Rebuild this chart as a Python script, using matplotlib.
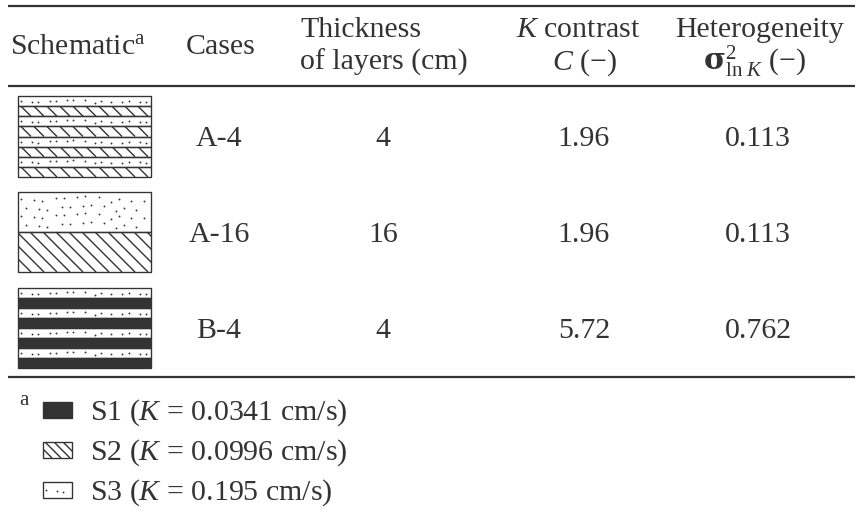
import matplotlib
matplotlib.use('Agg')
from matplotlib import pyplot as plt
from matplotlib.patches import Rectangle

plt.rcParams['font.family'] = ['Liberation Serif', 'DejaVu Serif']
plt.rcParams['mathtext.fontset'] = 'custom'
plt.rcParams['mathtext.rm'] = 'Liberation Serif'
plt.rcParams['mathtext.it'] = 'Liberation Serif:italic'
plt.rcParams['mathtext.bf'] = 'DejaVu Serif:bold'

# table data
cases = ['A-4', 'A-16', 'B-4']
thickness = [4, 16, 4]
k_contrast = [1.96, 1.96, 5.72]
heterogeneity = [0.113, 0.113, 0.762]
layer_stacks = [['S3', 'S2'] * 4, ['S3', 'S2'], ['S3', 'S1'] * 4]

materials = ['S1', 'S2', 'S3']
k_values = ['0.0341', '0.0996', '0.195']

INK = '#333333'
FS = 21.5

# fixed jitter used for the dotted texture
JIT_X = [0, 3, -2, 4, -1, 2, -3, 1, 3, -2, 0, 4]
JIT_Y = [0, -2, 2, -1, 3, 1, -3, 2, -1, 0, 2, -2]


def hatch_rect(ax, x0, y0, x1, y1, step=13):
    clip = Rectangle((x0, y0), x1 - x0, y1 - y0, transform=ax.transData)
    h = y1 - y0
    x = x0 - h
    while x < x1:
        ln, = ax.plot([x, x + h], [y0, y1], color=INK, lw=1.0,
                      solid_capstyle='butt')
        ln.set_clip_path(clip)
        x += step


def dot_rect(ax, x0, y0, x1, y1, sx=9, sy=9, pad=3):
    xs, ys = [], []
    h = y1 - y0
    nrows = max(1, int(round((h - 2 * pad) / sy)))
    row_gap = (h - 2 * pad) / nrows
    k = 0
    for r in range(nrows):
        yc = y0 + pad + row_gap * (r + 0.5)
        x = x0 + pad + (r % 2) * sx / 2
        while x < x1 - pad:
            xx = x + JIT_X[k % len(JIT_X)] * 0.6
            yy = yc + JIT_Y[(k * 5) % len(JIT_Y)] * min(1.0, row_gap / 8)
            if x0 + 1.5 < xx < x1 - 1.5 and y0 + 1.5 < yy < y1 - 1.5:
                xs.append(xx)
                ys.append(yy)
            x += sx
            k += 1
    ax.scatter(xs, ys, s=1.8, color=INK, linewidths=0, zorder=3)


def draw_layer(ax, kind, x0, y0, x1, y1, sx=9, step=13):
    if kind == 'S1':
        ax.add_patch(Rectangle((x0, y0), x1 - x0, y1 - y0, facecolor=INK,
                               edgecolor=INK, lw=0.8, zorder=2))
    else:
        ax.add_patch(Rectangle((x0, y0), x1 - x0, y1 - y0, facecolor='white',
                               edgecolor=INK, lw=0.8, zorder=2))
        if kind == 'S2':
            hatch_rect(ax, x0, y0, x1, y1, step=step)
        else:
            dot_rect(ax, x0, y0, x1, y1, sx=sx)
    ax.add_patch(Rectangle((x0, y0), x1 - x0, y1 - y0, facecolor='none',
                           edgecolor=INK, lw=0.9, zorder=4))


fig = plt.figure(figsize=(8.57, 5.13), dpi=100)
ax = fig.add_axes([0, 0, 1, 1])
ax.set_xlim(0, 857)
ax.set_ylim(513, 0)
ax.axis('off')

# rules
for y in [6, 86, 377]:
    ax.plot([8, 855], [y, y], color=INK, lw=1.6, solid_capstyle='butt')

# header
L1, L2, LM = 37, 70, 54
ax.text(10, LM, r'Schematic$^{\mathrm{a}}$', fontsize=FS, color=INK, va='baseline')
ax.text(221, LM, 'Cases', fontsize=FS, color=INK, ha='center', va='baseline')
ax.text(300, L1, 'Thickness', fontsize=FS, color=INK, va='baseline')
ax.text(300, L2, 'of layers (cm)', fontsize=FS, color=INK, va='baseline')
ax.text(578, L1, r'$K$ contrast', fontsize=FS, color=INK, ha='center', va='baseline')
ax.text(584, L2, '$C$ (−)', fontsize=FS, color=INK, ha='center', va='baseline')
ax.text(760, L1, 'Heterogeneity', fontsize=FS, color=INK, ha='center', va='baseline')
ax.text(755, L2, r'$\mathbf{\sigma}^{2}_{\ln\,K}$ (−)', fontsize=FS, color=INK,
        ha='center', va='baseline')

# body rows
row_boxes = [(96, 177), (192, 272), (288, 368)]
bx0, bx1 = 18, 151
for i, (top, bot) in enumerate(row_boxes):
    layers = layer_stacks[i]
    lh = (bot - top) / len(layers)
    for j, kind in enumerate(layers):
        draw_layer(ax, kind, bx0, top + j * lh, bx1, top + (j + 1) * lh,
                   sx=9 if lh < 20 else 11)
    yb = (top + bot) / 2 + 10
    ax.text(219, yb, cases[i], fontsize=FS, color=INK, ha='center', va='baseline')
    ax.text(383, yb, str(thickness[i]), fontsize=FS, color=INK, ha='center',
            va='baseline')
    ax.text(584, yb, f'{k_contrast[i]:.2f}', fontsize=FS, color=INK, ha='center',
            va='baseline')
    ax.text(758, yb, f'{heterogeneity[i]:.3f}', fontsize=FS, color=INK,
            ha='center', va='baseline')

# footnote legend
ax.text(19, 405, 'a', fontsize=15, color=INK, va='baseline')
for i, name in enumerate(materials):
    yb = 420 + 40 * i
    draw_layer(ax, name, 43, yb - 18, 72, yb - 2, sx=9, step=9)
    ax.text(90, yb, f'{name} ($K$ = {k_values[i]} cm/s)', fontsize=FS, color=INK,
            va='baseline')

plt.savefig('out.png', dpi=100)
